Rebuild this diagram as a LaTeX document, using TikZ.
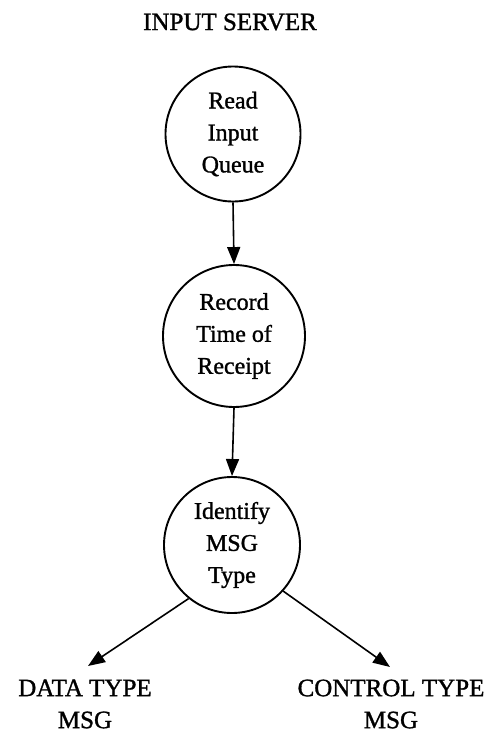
\documentclass[tikz,border=0pt]{standalone}
\usepackage{fontspec}
\setmainfont[FakeBold=1.2,AutoFakeBold=1.2]{Liberation Serif}
\usetikzlibrary{arrows.meta}

\tikzset{
  proc/.style={circle, draw, line width=1.9pt, inner sep=0pt, align=center,
               font=\bfseries\fontsize{24}{32}\selectfont},
  lbl/.style={align=center, inner sep=0pt, font=\bfseries\fontsize{25}{32}\selectfont},
  flow/.style={line width=1.6pt, -{Triangle[length=17pt,width=13pt]}}
}

\begin{document}
\begin{tikzpicture}[x=1pt, y=-1pt]
  \useasboundingbox (0,0) rectangle (488,734);

  \node[lbl] (title) at (230,22) {INPUT SERVER};

  \node[proc, minimum size=135pt] (c1) at (233,134) {Read\\Input\\Queue};
  \node[proc, minimum size=142pt] (c2) at (234,336) {Record\\Time of\\Receipt};
  \node[proc, minimum size=136pt] (c3) at (232,545) {Identify\\MSG\\Type};

  \node[lbl] (data) at (85,704) {DATA TYPE\\MSG};
  \node[lbl] (ctrl) at (391,704) {CONTROL TYPE\\MSG};

  \coordinate (dataend) at (88,666);
  \coordinate (ctrlend) at (390,667);

  \draw[flow] (c1.south) -- (c2.north);
  \draw[flow] (c2.south) -- (c3.north);
  \draw[flow] (c3.231) -- (dataend);
  \draw[flow] (c3.-42) -- (ctrlend);
\end{tikzpicture}
\end{document}
